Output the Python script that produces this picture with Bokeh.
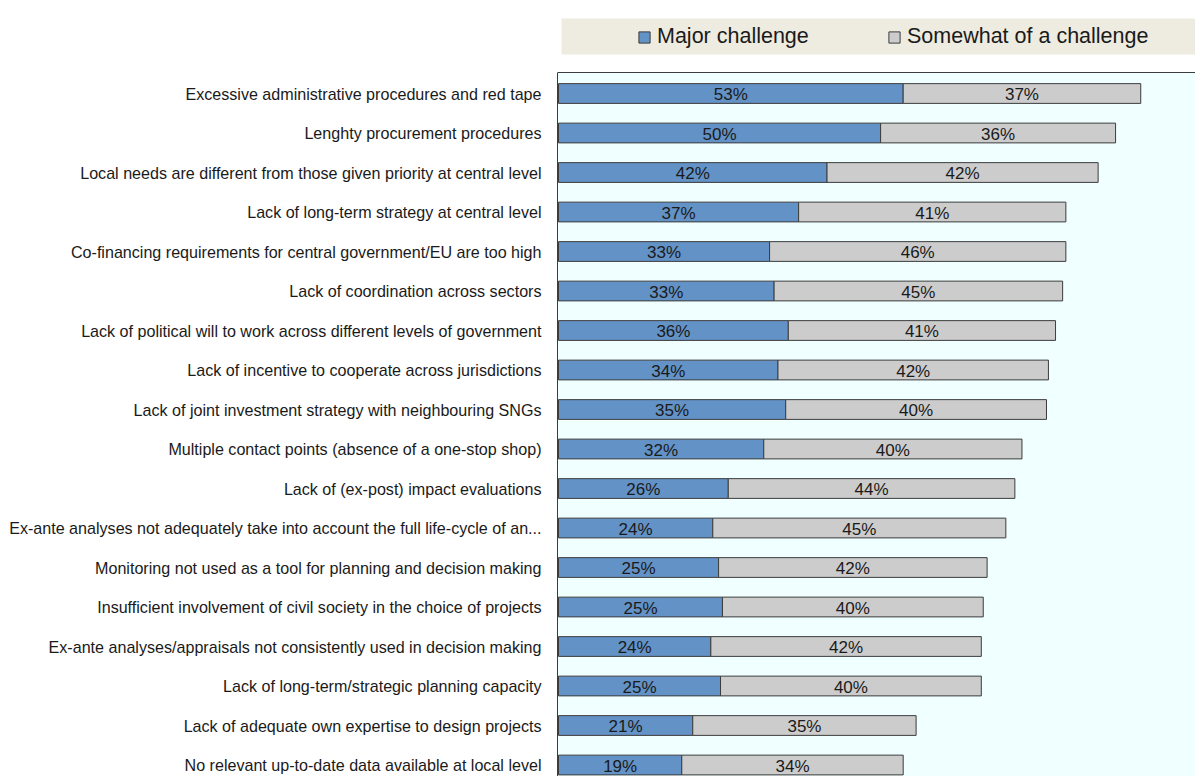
from bokeh.plotting import figure
from bokeh.models import (ColumnDataSource, Range1d, FixedTicker, BoxAnnotation,
                          Span, Legend, LegendItem)
from bokeh.core.properties import value
from bokeh.embed import file_html
from bokeh.resources import INLINE

categories = [
    "Excessive administrative procedures and red tape",
    "Lenghty procurement procedures",
    "Local needs are different from those given priority at central level",
    "Lack of long-term strategy at central level",
    "Co-financing requirements for central government/EU are too high",
    "Lack of coordination across sectors",
    "Lack of political will to work across different levels of government",
    "Lack of incentive to cooperate across jurisdictions",
    "Lack of joint investment strategy with neighbouring SNGs",
    "Multiple contact points (absence of a one-stop shop)",
    "Lack of (ex-post) impact evaluations",
    "Ex-ante analyses not adequately take into account the full life-cycle of an...",
    "Monitoring not used as a tool for planning and decision making",
    "Insufficient involvement of civil society in the choice of projects",
    "Ex-ante analyses/appraisals not consistently used in decision making",
    "Lack of long-term/strategic planning capacity",
    "Lack of adequate own expertise to design projects",
    "No relevant up-to-date data available at local level",
]
major = [53.4, 49.9, 41.6, 37.2, 32.7, 33.4, 35.6, 34.0, 35.2, 31.8,
         26.3, 23.9, 24.8, 25.4, 23.6, 25.1, 20.8, 19.1]
somewhat = [36.8, 36.4, 42.0, 41.4, 45.9, 44.7, 41.4, 41.9, 40.4, 40.0,
            44.4, 45.4, 41.6, 40.4, 41.9, 40.4, 34.6, 34.3]
series_names = ["Major challenge", "Somewhat of a challenge"]

BLUE = "#6392C6"
GRAY = "#CCCCCC"
EDGE = "#3C3C3C"
TXT = "#1a1a1a"
FONT = "Liberation Sans"

idx = list(range(len(categories)))
total = [a + b for a, b in zip(major, somewhat)]
src = ColumnDataSource(dict(
    y=idx, major=major, total=total,
    major_mid=[a / 2 for a in major],
    some_mid=[a + b / 2 for a, b in zip(major, somewhat)],
    major_lbl=[f"{a:.0f}%" for a in major],
    some_lbl=[f"{b:.0f}%" for b in somewhat],
    zero=[0] * len(idx),
))

W, H = 1195, 776
LEFT = 557
PXX = 6.455          # pixels per percent
PXY = 39.5           # pixels per category row
Y0 = 93              # pixel row of first category
x0 = -1 / PXX
x1 = x0 + (W - LEFT) / PXX
ytop = (0 - Y0) / PXY
ybot = (H - Y0) / PXY
yframe = (72 - Y0) / PXY

p = figure(width=W, height=H, output_backend="svg", toolbar_location=None,
           x_range=Range1d(x0, x1), y_range=Range1d(ybot, ytop),
           x_axis_location=None, min_border_left=LEFT, min_border_right=0,
           min_border_top=0, min_border_bottom=0)
p.outline_line_color = None
p.grid.visible = False
p.background_fill_color = "white"
p.border_fill_color = "white"

# plot-area background and legend box
p.add_layout(BoxAnnotation(top=yframe, fill_color="#F0FFFF", fill_alpha=1,
                           line_color=None, level="underlay"))
p.add_layout(BoxAnnotation(left=(561 - 558) / PXX, top=(18 - Y0) / PXY,
                           bottom=(54 - Y0) / PXY, fill_color="#EEEBE0",
                           fill_alpha=1, line_color=None, level="underlay"))
p.add_layout(Span(location=yframe, dimension="width", line_color=EDGE,
                  line_width=1))

r1 = p.hbar(y="y", left="zero", right="major", height=0.5, source=src,
            fill_color=BLUE, line_color=EDGE, line_width=1)
r2 = p.hbar(y="y", left="major", right="total", height=0.5, source=src,
            fill_color=GRAY, line_color=EDGE, line_width=1)

for xcol, tcol in (("major_mid", "major_lbl"), ("some_mid", "some_lbl")):
    p.text(x=xcol, y="y", text=tcol, source=src, text_align="center",
           text_baseline="middle", text_font=value(FONT),
           text_font_size="17px", text_color=TXT, y_offset=1)

ax = p.yaxis[0]
ax.ticker = FixedTicker(ticks=idx)
ax.major_label_overrides = {i: c for i, c in zip(idx, categories)}
ax.major_label_text_font = FONT
ax.major_label_text_font_size = "16.1px"
ax.major_label_text_color = TXT
ax.major_tick_line_color = None
ax.minor_tick_line_color = None
ax.major_tick_out = 0
ax.major_tick_in = 0
ax.major_label_standoff = 16
ax.axis_line_color = EDGE
ax.bounds = (yframe, ybot)

legend = Legend(items=[LegendItem(label=series_names[0], renderers=[r1]),
                       LegendItem(label=series_names[1], renderers=[r2])],
                orientation="horizontal", location=(80, 727),
                padding=0, margin=0, spacing=0, label_standoff=6,
                glyph_width=14, glyph_height=14, label_width=230,
                label_height=24, label_text_font=FONT,
                label_text_font_size="21.5px", label_text_color=TXT,
                background_fill_alpha=0, border_line_color=None)
p.add_layout(legend, "center")

open("out.html", "w").write(file_html(p, INLINE))
